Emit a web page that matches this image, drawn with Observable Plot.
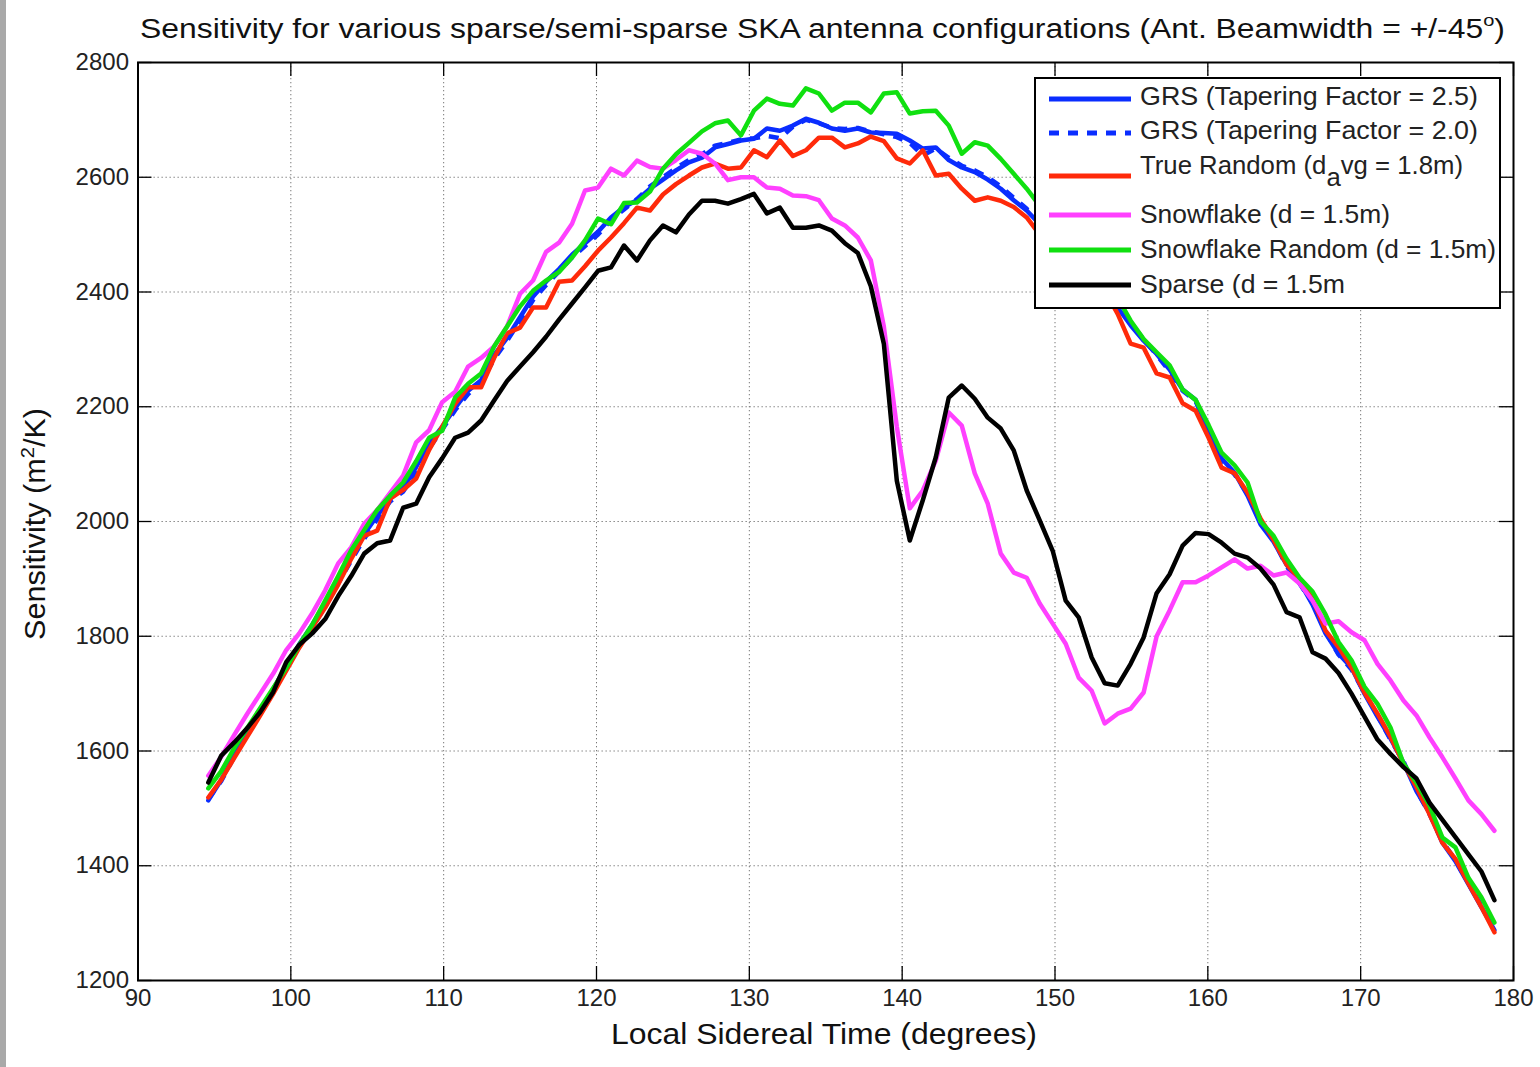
<!DOCTYPE html>
<html>
<head>
<meta charset="utf-8">
<script src="https://cdn.jsdelivr.net/npm/d3@7"></script>
<script src="https://cdn.jsdelivr.net/npm/@observablehq/plot@0.6"></script>
<style>
  body { margin: 0; background: #fff; }
  #wrap { position: relative; width: 1540px; height: 1067px; overflow: hidden; font-family: "Liberation Sans", Arial, sans-serif; }
  #chart { position: absolute; left: 0; top: 0; }
  #overlay { position: absolute; left: 0; top: 0; pointer-events: none; }
  #strip { position: absolute; left: 0; top: 0; width: 6px; height: 1067px; background: #a9a9a9; }
</style>
</head>
<body>
<div id="wrap">
  <div id="chart"></div>
  <svg id="overlay" width="1540" height="1067" xmlns="http://www.w3.org/2000/svg"></svg>
  <div id="strip"></div>
</div>
<script>
// ---------------- data ----------------
const lst = [94.60,95.45,96.30,97.15,98.00,98.85,99.70,100.55,101.40,102.25,
  103.10,103.95,104.80,105.65,106.50,107.35,108.20,109.05,109.90,110.75,
  111.60,112.45,113.30,114.15,115.00,115.85,116.70,117.55,118.40,119.25,
  120.10,120.95,121.80,122.65,123.50,124.35,125.20,126.05,126.90,127.75,
  128.60,129.45,130.30,131.15,132.00,132.85,133.70,134.55,135.40,136.25,
  137.10,137.95,138.80,139.65,140.50,141.35,142.20,143.05,143.90,144.75,
  145.60,146.45,147.30,148.15,149.00,149.85,150.70,151.55,152.40,153.25,
  154.10,154.95,155.80,156.65,157.50,158.35,159.20,160.05,160.90,161.75,
  162.60,163.45,164.30,165.15,166.00,166.85,167.70,168.55,169.40,170.25,
  171.10,171.95,172.80,173.65,174.50,175.35,176.20,177.05,177.90,178.75];

const grs25 = [1514,1550,1592,1632,1670,1708,1748,1786,1820,1858,
  1898,1940,1978,2010,2040,2058,2095,2136,2165,2198,
  2228,2246,2290,2320,2356,2392,2418,2440,2465,2485,
  2505,2530,2548,2560,2580,2596,2612,2626,2634,2652,
  2658,2664,2667,2685,2681,2690,2702,2695,2685,2681,
  2685,2678,2677,2676,2664,2650,2652,2630,2617,2609,
  2596,2580,2560,2542,2518,2494,2468,2445,2420,2398,
  2373,2342,2315,2292,2265,2230,2212,2158,2110,2085,
  2045,1995,1965,1925,1895,1855,1805,1770,1745,1700,
  1660,1622,1580,1530,1492,1440,1408,1368,1328,1288];

const grs20 = [1516,1548,1590,1630,1668,1705,1744,1782,1816,1852,
  1892,1932,1970,2004,2035,2052,2088,2128,2160,2194,
  2222,2242,2283,2315,2350,2386,2412,2436,2460,2480,
  2500,2526,2544,2562,2584,2600,2616,2630,2640,2655,
  2660,2666,2668,2672,2668,2688,2700,2694,2686,2684,
  2686,2680,2675,2670,2660,2638,2650,2634,2620,2612,
  2600,2584,2564,2545,2520,2496,2470,2447,2422,2400,
  2376,2345,2318,2290,2262,2228,2210,2155,2108,2082,
  2048,1998,1968,1922,1892,1858,1808,1768,1742,1702,
  1662,1620,1582,1532,1490,1442,1410,1370,1330,1290];

const trueRandom = [1519,1550,1588,1625,1662,1700,1740,1780,1815,1850,
  1890,1935,1975,1984,2040,2055,2075,2125,2165,2205,
  2234,2234,2285,2328,2338,2373,2373,2418,2420,2445,
  2472,2495,2520,2547,2542,2570,2588,2603,2617,2624,
  2615,2617,2647,2635,2664,2637,2647,2669,2669,2652,
  2659,2671,2663,2633,2624,2647,2603,2606,2580,2559,
  2565,2559,2548,2530,2500,2475,2455,2440,2420,2403,
  2362,2310,2303,2258,2251,2206,2193,2146,2094,2084,
  2050,2005,1968,1925,1900,1865,1810,1781,1746,1702,
  1665,1625,1578,1537,1490,1440,1412,1369,1328,1284];

const snowflake = [1557,1590,1628,1665,1700,1735,1776,1805,1840,1880,
  1927,1955,1996,2020,2050,2080,2138,2159,2208,2226,
  2270,2285,2305,2340,2397,2420,2470,2486,2519,2577,
  2582,2615,2603,2629,2618,2615,2630,2647,2641,2624,
  2595,2600,2600,2582,2580,2568,2567,2560,2528,2516,
  2495,2455,2340,2165,2023,2054,2106,2190,2167,2084,
  2031,1944,1911,1902,1857,1822,1787,1728,1705,1648,
  1665,1674,1702,1800,1845,1894,1894,1906,1920,1934,
  1918,1923,1906,1911,1892,1862,1822,1826,1807,1793,
  1752,1723,1688,1662,1624,1589,1552,1514,1490,1461];

const snowflakeRandom = [1535,1565,1605,1640,1675,1710,1745,1785,1820,1862,
  1905,1950,1985,2020,2045,2068,2105,2146,2158,2216,
  2240,2258,2305,2340,2375,2402,2420,2435,2460,2490,
  2528,2518,2555,2556,2575,2615,2640,2660,2680,2694,
  2699,2673,2716,2737,2728,2725,2755,2746,2716,2730,
  2730,2713,2746,2748,2711,2715,2716,2690,2641,2661,
  2655,2632,2606,2580,2550,2520,2490,2462,2435,2410,
  2390,2350,2318,2295,2272,2230,2212,2168,2120,2098,
  2068,2000,1975,1935,1902,1878,1838,1790,1758,1712,
  1682,1641,1578,1545,1505,1449,1432,1379,1345,1301];

const sparse = [1545,1592,1615,1640,1668,1703,1755,1785,1805,1830,
  1870,1905,1944,1962,1967,2024,2031,2077,2110,2146,
  2155,2176,2211,2245,2270,2295,2322,2352,2380,2408,
  2437,2443,2481,2455,2490,2516,2504,2535,2559,2559,
  2554,2562,2571,2537,2547,2512,2512,2516,2507,2485,
  2468,2410,2310,2071,1967,2037,2112,2216,2237,2214,
  2181,2162,2124,2054,2002,1949,1862,1833,1763,1718,
  1714,1752,1798,1875,1908,1958,1980,1978,1963,1944,
  1937,1918,1890,1842,1833,1772,1761,1736,1700,1660,
  1620,1595,1572,1552,1510,1480,1450,1420,1390,1340];

const seriesNames = [
  "GRS (Tapering Factor = 2.5)",
  "GRS (Tapering Factor = 2.0)",
  "True Random (davg = 1.8m)",
  "Snowflake (d = 1.5m)",
  "Snowflake Random (d = 1.5m)",
  "Sparse (d = 1.5m"
];
const seriesValues = [grs25, grs20, trueRandom, snowflake, snowflakeRandom, sparse];
const seriesColors = ["#0a2dff", "#0a2dff", "#ff2a0a", "#ff40ff", "#10e010", "#000000"];
const seriesDash = [null, "10,9", null, null, null, null];

const xTicks = [90,100,110,120,130,140,150,160,170,180];
const yTicks = [1200,1400,1600,1800,2000,2200,2400,2600,2800];

const titleMain = "Sensitivity for various sparse/semi-sparse SKA antenna configurations (Ant. Beamwidth = +/-45";
const xLabel = "Local Sidereal Time (degrees)";

// ---------------- chart ----------------
const W = 1540, H = 1067;
const mL = 137.5, mR = 27, mT = 62, mB = 87;
const frameW = W - mL - mR, frameH = H - mT - mB;
const tickLen = 14;

const gridStyle = {stroke: "#777", strokeDasharray: "1.3,2.7", strokeWidth: 1};

const chart = Plot.plot({
  width: W,
  height: H,
  marginLeft: mL,
  marginRight: mR,
  marginTop: mT,
  marginBottom: mB,
  style: {fontFamily: "'Liberation Sans', Arial, sans-serif", fontSize: "24px", color: "#222", background: "transparent"},
  x: {domain: [90, 180], ticks: xTicks, tickSize: 0, tickPadding: 8, label: null, tickFormat: d => String(d)},
  y: {domain: [1200, 2800], ticks: yTicks, tickSize: 0, tickPadding: 9, label: null, tickFormat: d => String(d)},
  marks: [
    Plot.ruleX(xTicks, {x: d => d, ...gridStyle}),
    Plot.ruleY(yTicks, {y: d => d, ...gridStyle}),
    Plot.tickX(xTicks, {x: d => d, insetTop: frameH - tickLen, stroke: "#000", strokeWidth: 1.3}),
    Plot.tickX(xTicks, {x: d => d, insetBottom: frameH - tickLen, stroke: "#000", strokeWidth: 1.3}),
    Plot.tickY(yTicks, {y: d => d, insetRight: frameW - tickLen, stroke: "#000", strokeWidth: 1.3}),
    Plot.tickY(yTicks, {y: d => d, insetLeft: frameW - tickLen, stroke: "#000", strokeWidth: 1.3}),
    ...seriesValues.map((vals, k) => Plot.line(vals, {
      x: (d, i) => lst[i],
      y: d => d,
      stroke: seriesColors[k],
      strokeWidth: 4.5,
      strokeDasharray: seriesDash[k],
      strokeLinejoin: "round",
      strokeLinecap: seriesDash[k] ? "butt" : "round"
    })),
    Plot.frame({stroke: "#000", strokeWidth: 2})
  ]
});
document.getElementById("chart").appendChild(chart);

// ---------------- overlay: title, axis labels, legend ----------------
const ov = d3.select("#overlay");
const font = "'Liberation Sans', Arial, sans-serif";

const tt = ov.append("text")
  .attr("x", 140).attr("y", 38)
  .attr("font-family", font).attr("font-size", 27).attr("fill", "#111")
  .attr("textLength", 1365).attr("lengthAdjust", "spacingAndGlyphs");
tt.append("tspan").text(titleMain);
tt.append("tspan").attr("font-size", 17).attr("dy", -12).text("o");
tt.append("tspan").attr("dy", 12).text(")");

ov.append("text")
  .attr("x", 611).attr("y", 1044)
  .attr("font-family", font).attr("font-size", 29).attr("fill", "#111")
  .attr("textLength", 426).attr("lengthAdjust", "spacingAndGlyphs")
  .text(xLabel);

const yl = ov.append("text")
  .attr("transform", "translate(45,640) rotate(-90)")
  .attr("font-family", font).attr("font-size", 29).attr("fill", "#111")
  .attr("textLength", 232).attr("lengthAdjust", "spacingAndGlyphs");
yl.append("tspan").text("Sensitivity (m");
yl.append("tspan").attr("font-size", 19).attr("dy", -11).text("2");
yl.append("tspan").attr("dy", 11).text("/K)");

// legend
const lg = ov.append("g");
lg.append("rect").attr("x", 1035).attr("y", 78).attr("width", 465).attr("height", 230)
  .attr("fill", "#fff").attr("stroke", "#000").attr("stroke-width", 2);
const lineY = [99, 133, 176, 215, 250, 285];
const textY = [105, 139, 174, 223, 258, 293];
const textW = [338, 338, null, 250, 356, 205];
seriesNames.forEach((name, k) => {
  lg.append("line").attr("x1", 1049).attr("x2", 1131).attr("y1", lineY[k]).attr("y2", lineY[k])
    .attr("stroke", seriesColors[k]).attr("stroke-width", 5)
    .attr("stroke-dasharray", seriesDash[k]);
  const t = lg.append("text").attr("x", 1140).attr("y", textY[k])
    .attr("font-family", font).attr("font-size", 26).attr("fill", "#222");
  if (k === 2) {
    t.attr("textLength", 323).attr("lengthAdjust", "spacingAndGlyphs");
    t.append("tspan").text("True Random (d");
    t.append("tspan").attr("dy", 12).text("a");
    t.append("tspan").attr("dy", -12).text("vg = 1.8m)");
  } else {
    t.attr("textLength", textW[k]).attr("lengthAdjust", "spacingAndGlyphs").text(name);
  }
});
</script>
</body>
</html>
